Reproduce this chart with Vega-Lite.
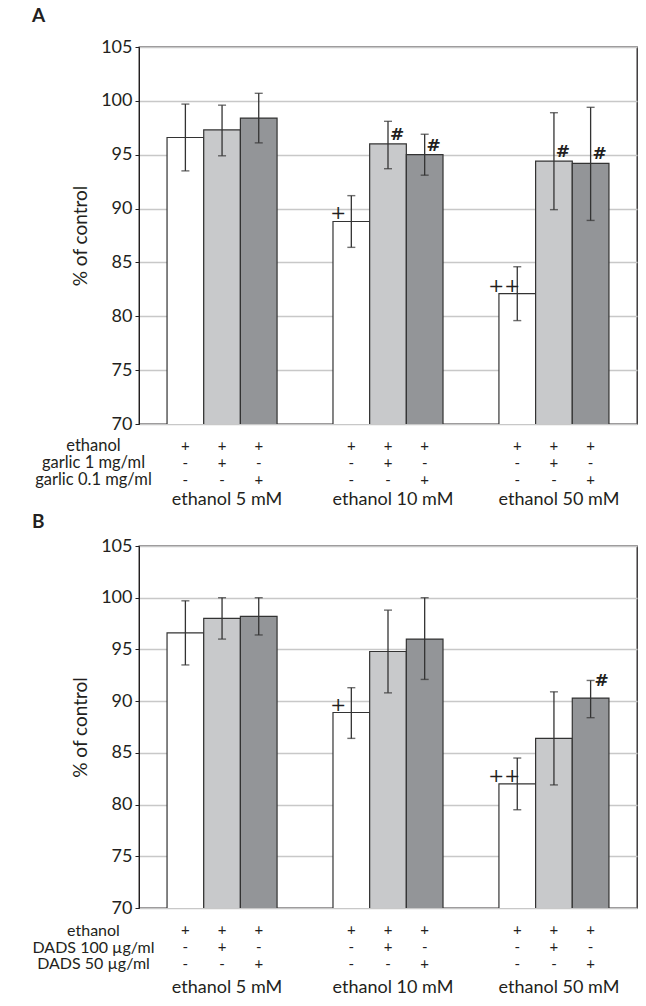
{
  "$schema": "https://vega.github.io/schema/vega-lite/v6.json",
  "background": "white",
  "padding": {"left": 31, "top": 6, "right": 4, "bottom": 5},
  "config": {
    "font": "Lato",
    "view": {"stroke": null},
    "axis": {"labelFont": "Lato", "titleFont": "Lato", "labelFontSize": 18, "titleFontSize": 19, "labelColor": "#231f20", "titleColor": "#231f20", "titleFontWeight": "normal"},
    "text": {"font": "Lato", "color": "#231f20"}
  },
  "datasets": {
    "barsA": [
      {"group": "ethanol 5 mM", "bar": 1, "treatment": "ethanol", "mean": 96.6, "lo": 93.5, "hi": 99.7, "sig": ""},
      {"group": "ethanol 5 mM", "bar": 2, "treatment": "garlic 1 mg/ml", "mean": 97.3, "lo": 94.9, "hi": 99.6, "sig": ""},
      {"group": "ethanol 5 mM", "bar": 3, "treatment": "garlic 0.1 mg/ml", "mean": 98.4, "lo": 96.1, "hi": 100.7, "sig": ""},
      {"group": "ethanol 10 mM", "bar": 1, "treatment": "ethanol", "mean": 88.8, "lo": 86.4, "hi": 91.2, "sig": "+"},
      {"group": "ethanol 10 mM", "bar": 2, "treatment": "garlic 1 mg/ml", "mean": 96.0, "lo": 93.7, "hi": 98.1, "sig": "#"},
      {"group": "ethanol 10 mM", "bar": 3, "treatment": "garlic 0.1 mg/ml", "mean": 95.0, "lo": 93.1, "hi": 96.9, "sig": "#"},
      {"group": "ethanol 50 mM", "bar": 1, "treatment": "ethanol", "mean": 82.1, "lo": 79.6, "hi": 84.6, "sig": "++"},
      {"group": "ethanol 50 mM", "bar": 2, "treatment": "garlic 1 mg/ml", "mean": 94.4, "lo": 89.9, "hi": 98.9, "sig": "#"},
      {"group": "ethanol 50 mM", "bar": 3, "treatment": "garlic 0.1 mg/ml", "mean": 94.2, "lo": 88.9, "hi": 99.4, "sig": "#"}
    ],
    "barsB": [
      {"group": "ethanol 5 mM", "bar": 1, "treatment": "ethanol", "mean": 96.6, "lo": 93.5, "hi": 99.7, "sig": ""},
      {"group": "ethanol 5 mM", "bar": 2, "treatment": "DADS 100 µg/ml", "mean": 98.0, "lo": 96.0, "hi": 100.0, "sig": ""},
      {"group": "ethanol 5 mM", "bar": 3, "treatment": "DADS 50 µg/ml", "mean": 98.2, "lo": 96.4, "hi": 100.0, "sig": ""},
      {"group": "ethanol 10 mM", "bar": 1, "treatment": "ethanol", "mean": 88.9, "lo": 86.4, "hi": 91.3, "sig": "+"},
      {"group": "ethanol 10 mM", "bar": 2, "treatment": "DADS 100 µg/ml", "mean": 94.8, "lo": 90.8, "hi": 98.8, "sig": ""},
      {"group": "ethanol 10 mM", "bar": 3, "treatment": "DADS 50 µg/ml", "mean": 96.0, "lo": 92.1, "hi": 100.0, "sig": ""},
      {"group": "ethanol 50 mM", "bar": 1, "treatment": "ethanol", "mean": 82.0, "lo": 79.5, "hi": 84.5, "sig": "++"},
      {"group": "ethanol 50 mM", "bar": 2, "treatment": "DADS 100 µg/ml", "mean": 86.4, "lo": 81.9, "hi": 90.9, "sig": ""},
      {"group": "ethanol 50 mM", "bar": 3, "treatment": "DADS 50 µg/ml", "mean": 90.3, "lo": 88.4, "hi": 92.0, "sig": "#"}
    ],
    "tableA": [
      {"group": "ethanol 5 mM", "bar": 1, "row": "ethanol", "sign": "+"},
      {"group": "ethanol 5 mM", "bar": 2, "row": "ethanol", "sign": "+"},
      {"group": "ethanol 5 mM", "bar": 3, "row": "ethanol", "sign": "+"},
      {"group": "ethanol 5 mM", "bar": 1, "row": "garlic 1 mg/ml", "sign": "-"},
      {"group": "ethanol 5 mM", "bar": 2, "row": "garlic 1 mg/ml", "sign": "+"},
      {"group": "ethanol 5 mM", "bar": 3, "row": "garlic 1 mg/ml", "sign": "-"},
      {"group": "ethanol 5 mM", "bar": 1, "row": "garlic 0.1 mg/ml", "sign": "-"},
      {"group": "ethanol 5 mM", "bar": 2, "row": "garlic 0.1 mg/ml", "sign": "-"},
      {"group": "ethanol 5 mM", "bar": 3, "row": "garlic 0.1 mg/ml", "sign": "+"},
      {"group": "ethanol 10 mM", "bar": 1, "row": "ethanol", "sign": "+"},
      {"group": "ethanol 10 mM", "bar": 2, "row": "ethanol", "sign": "+"},
      {"group": "ethanol 10 mM", "bar": 3, "row": "ethanol", "sign": "+"},
      {"group": "ethanol 10 mM", "bar": 1, "row": "garlic 1 mg/ml", "sign": "-"},
      {"group": "ethanol 10 mM", "bar": 2, "row": "garlic 1 mg/ml", "sign": "+"},
      {"group": "ethanol 10 mM", "bar": 3, "row": "garlic 1 mg/ml", "sign": "-"},
      {"group": "ethanol 10 mM", "bar": 1, "row": "garlic 0.1 mg/ml", "sign": "-"},
      {"group": "ethanol 10 mM", "bar": 2, "row": "garlic 0.1 mg/ml", "sign": "-"},
      {"group": "ethanol 10 mM", "bar": 3, "row": "garlic 0.1 mg/ml", "sign": "+"},
      {"group": "ethanol 50 mM", "bar": 1, "row": "ethanol", "sign": "+"},
      {"group": "ethanol 50 mM", "bar": 2, "row": "ethanol", "sign": "+"},
      {"group": "ethanol 50 mM", "bar": 3, "row": "ethanol", "sign": "+"},
      {"group": "ethanol 50 mM", "bar": 1, "row": "garlic 1 mg/ml", "sign": "-"},
      {"group": "ethanol 50 mM", "bar": 2, "row": "garlic 1 mg/ml", "sign": "+"},
      {"group": "ethanol 50 mM", "bar": 3, "row": "garlic 1 mg/ml", "sign": "-"},
      {"group": "ethanol 50 mM", "bar": 1, "row": "garlic 0.1 mg/ml", "sign": "-"},
      {"group": "ethanol 50 mM", "bar": 2, "row": "garlic 0.1 mg/ml", "sign": "-"},
      {"group": "ethanol 50 mM", "bar": 3, "row": "garlic 0.1 mg/ml", "sign": "+"}
    ],
    "tableB": [
      {"group": "ethanol 5 mM", "bar": 1, "row": "ethanol", "sign": "+"},
      {"group": "ethanol 5 mM", "bar": 2, "row": "ethanol", "sign": "+"},
      {"group": "ethanol 5 mM", "bar": 3, "row": "ethanol", "sign": "+"},
      {"group": "ethanol 5 mM", "bar": 1, "row": "DADS 100 µg/ml", "sign": "-"},
      {"group": "ethanol 5 mM", "bar": 2, "row": "DADS 100 µg/ml", "sign": "+"},
      {"group": "ethanol 5 mM", "bar": 3, "row": "DADS 100 µg/ml", "sign": "-"},
      {"group": "ethanol 5 mM", "bar": 1, "row": "DADS 50 µg/ml", "sign": "-"},
      {"group": "ethanol 5 mM", "bar": 2, "row": "DADS 50 µg/ml", "sign": "-"},
      {"group": "ethanol 5 mM", "bar": 3, "row": "DADS 50 µg/ml", "sign": "+"},
      {"group": "ethanol 10 mM", "bar": 1, "row": "ethanol", "sign": "+"},
      {"group": "ethanol 10 mM", "bar": 2, "row": "ethanol", "sign": "+"},
      {"group": "ethanol 10 mM", "bar": 3, "row": "ethanol", "sign": "+"},
      {"group": "ethanol 10 mM", "bar": 1, "row": "DADS 100 µg/ml", "sign": "-"},
      {"group": "ethanol 10 mM", "bar": 2, "row": "DADS 100 µg/ml", "sign": "+"},
      {"group": "ethanol 10 mM", "bar": 3, "row": "DADS 100 µg/ml", "sign": "-"},
      {"group": "ethanol 10 mM", "bar": 1, "row": "DADS 50 µg/ml", "sign": "-"},
      {"group": "ethanol 10 mM", "bar": 2, "row": "DADS 50 µg/ml", "sign": "-"},
      {"group": "ethanol 10 mM", "bar": 3, "row": "DADS 50 µg/ml", "sign": "+"},
      {"group": "ethanol 50 mM", "bar": 1, "row": "ethanol", "sign": "+"},
      {"group": "ethanol 50 mM", "bar": 2, "row": "ethanol", "sign": "+"},
      {"group": "ethanol 50 mM", "bar": 3, "row": "ethanol", "sign": "+"},
      {"group": "ethanol 50 mM", "bar": 1, "row": "DADS 100 µg/ml", "sign": "-"},
      {"group": "ethanol 50 mM", "bar": 2, "row": "DADS 100 µg/ml", "sign": "+"},
      {"group": "ethanol 50 mM", "bar": 3, "row": "DADS 100 µg/ml", "sign": "-"},
      {"group": "ethanol 50 mM", "bar": 1, "row": "DADS 50 µg/ml", "sign": "-"},
      {"group": "ethanol 50 mM", "bar": 2, "row": "DADS 50 µg/ml", "sign": "-"},
      {"group": "ethanol 50 mM", "bar": 3, "row": "DADS 50 µg/ml", "sign": "+"}
    ]
  },
  "spacing": 4,
  "resolve": {"scale": {"y": "independent", "x": "independent", "xOffset": "independent", "fill": "independent"}},
  "vconcat": [
    {
      "spacing": 3,
      "resolve": {"scale": {"y": "independent", "x": "independent", "xOffset": "independent"}},
      "vconcat": [
        {
          "width": 498,
          "height": 377,
          "title": {"text": "A", "anchor": "start", "frame": "group", "dx": -107, "fontSize": 19, "fontWeight": "bold", "font": "Lato", "color": "#231f20", "offset": 12},
          "data": {"name": "barsA"},
          "view": {"stroke": "#231f20", "strokeWidth": 1.3},
          "encoding": {
            "x": {"field": "group", "type": "nominal", "sort": ["ethanol 5 mM", "ethanol 10 mM", "ethanol 50 mM"], "scale": {"paddingInner": 0.337, "paddingOuter": 0.169}, "axis": null},
            "xOffset": {"field": "bar", "type": "nominal", "scale": {"paddingInner": 0, "paddingOuter": 0}}
          },
          "layer": [
            {
              "mark": {"type": "bar", "stroke": "#333333", "strokeWidth": 1.2, "clip": true},
              "encoding": {
                "y": {"field": "mean", "type": "quantitative", "scale": {"domain": [70, 105], "nice": false, "zero": false},
                  "axis": {"values": [70, 75, 80, 85, 90, 95, 100, 105], "title": "% of control", "titlePadding": 10, "tickSize": 4, "tickColor": "#231f20", "domainColor": "#231f20", "labelPadding": 3, "gridColor": "#c8c8c8", "gridWidth": 1.5}},
                "fill": {"field": "bar", "type": "nominal", "scale": {"domain": [1, 2, 3], "range": ["#ffffff", "#c8c9cb", "#939598"]}, "legend": null}
              }
            },
            {
              "mark": {"type": "rule", "stroke": "#333333", "strokeWidth": 1.3},
              "encoding": {"y": {"field": "lo", "type": "quantitative"}, "y2": {"field": "hi"}}
            },
            {
              "mark": {"type": "tick", "color": "#333333", "size": 8, "thickness": 1.4, "orient": "horizontal"},
              "encoding": {"y": {"field": "lo", "type": "quantitative"}}
            },
            {
              "mark": {"type": "tick", "color": "#333333", "size": 8, "thickness": 1.4, "orient": "horizontal"},
              "encoding": {"y": {"field": "hi", "type": "quantitative"}}
            },
            {
              "transform": [{"filter": "datum.bar == 1 && datum.sig != ''"}],
              "mark": {"type": "text", "font": "DejaVu Serif", "fontSize": 19, "align": "center", "baseline": "alphabetic", "dx": -13, "dy": -2, "color": "#231f20"},
              "encoding": {"y": {"field": "mean", "type": "quantitative"}, "text": {"field": "sig"}}
            },
            {
              "transform": [{"filter": "datum.bar != 1 && datum.sig != ''"}],
              "mark": {"type": "text", "font": "DejaVu Serif", "fontSize": 17, "fontWeight": "bold", "align": "center", "baseline": "alphabetic", "dx": 9, "dy": -4, "color": "#231f20"},
              "encoding": {"y": {"field": "mean", "type": "quantitative"}, "text": {"field": "sig"}}
            }
          ]
        },
        {
          "width": 498,
          "height": 51,
          "data": {"name": "tableA"},
          "mark": {"type": "text", "fontSize": 15},
          "encoding": {
            "x": {"field": "group", "type": "nominal", "sort": ["ethanol 5 mM", "ethanol 10 mM", "ethanol 50 mM"], "scale": {"paddingInner": 0.337, "paddingOuter": 0.169},
              "axis": {"orient": "bottom", "title": null, "domain": false, "ticks": false, "labelAngle": 0, "labelPadding": 2, "labelOffset": 5}},
            "xOffset": {"field": "bar", "type": "nominal", "scale": {"type": "point", "padding": 0.5}},
            "y": {"field": "row", "type": "nominal", "sort": ["ethanol", "garlic 1 mg/ml", "garlic 0.1 mg/ml"],
              "axis": {"title": null, "domain": false, "ticks": false, "labelAlign": "center", "labelPadding": 46, "labelFontSize": 16.5}},
            "text": {"field": "sign"}
          }
        }
      ]
    },
    {
      "spacing": 4,
      "resolve": {"scale": {"y": "independent", "x": "independent", "xOffset": "independent"}},
      "vconcat": [
        {
          "width": 498,
          "height": 362,
          "title": {"text": "B", "anchor": "start", "frame": "group", "dx": -107, "fontSize": 19, "fontWeight": "bold", "font": "Lato", "color": "#231f20", "offset": 5},
          "data": {"name": "barsB"},
          "view": {"stroke": "#231f20", "strokeWidth": 1.3},
          "encoding": {
            "x": {"field": "group", "type": "nominal", "sort": ["ethanol 5 mM", "ethanol 10 mM", "ethanol 50 mM"], "scale": {"paddingInner": 0.337, "paddingOuter": 0.169}, "axis": null},
            "xOffset": {"field": "bar", "type": "nominal", "scale": {"paddingInner": 0, "paddingOuter": 0}}
          },
          "layer": [
            {
              "mark": {"type": "bar", "stroke": "#333333", "strokeWidth": 1.2, "clip": true},
              "encoding": {
                "y": {"field": "mean", "type": "quantitative", "scale": {"domain": [70, 105], "nice": false, "zero": false},
                  "axis": {"values": [70, 75, 80, 85, 90, 95, 100, 105], "title": "% of control", "titlePadding": 10, "tickSize": 4, "tickColor": "#231f20", "domainColor": "#231f20", "labelPadding": 3, "gridColor": "#c8c8c8", "gridWidth": 1.5}},
                "fill": {"field": "bar", "type": "nominal", "scale": {"domain": [1, 2, 3], "range": ["#ffffff", "#c8c9cb", "#939598"]}, "legend": null}
              }
            },
            {
              "mark": {"type": "rule", "stroke": "#333333", "strokeWidth": 1.3},
              "encoding": {"y": {"field": "lo", "type": "quantitative"}, "y2": {"field": "hi"}}
            },
            {
              "mark": {"type": "tick", "color": "#333333", "size": 8, "thickness": 1.4, "orient": "horizontal"},
              "encoding": {"y": {"field": "lo", "type": "quantitative"}}
            },
            {
              "mark": {"type": "tick", "color": "#333333", "size": 8, "thickness": 1.4, "orient": "horizontal"},
              "encoding": {"y": {"field": "hi", "type": "quantitative"}}
            },
            {
              "transform": [{"filter": "datum.bar == 1 && datum.sig != ''"}],
              "mark": {"type": "text", "font": "DejaVu Serif", "fontSize": 19, "align": "center", "baseline": "alphabetic", "dx": -13, "dy": -2, "color": "#231f20"},
              "encoding": {"y": {"field": "mean", "type": "quantitative"}, "text": {"field": "sig"}}
            },
            {
              "transform": [{"filter": "datum.bar != 1 && datum.sig != ''"}],
              "mark": {"type": "text", "font": "DejaVu Serif", "fontSize": 17, "fontWeight": "bold", "align": "center", "baseline": "alphabetic", "dx": 11, "dy": -12, "color": "#231f20"},
              "encoding": {"y": {"field": "mean", "type": "quantitative"}, "text": {"field": "sig"}}
            }
          ]
        },
        {
          "width": 498,
          "height": 50,
          "data": {"name": "tableB"},
          "mark": {"type": "text", "fontSize": 15},
          "encoding": {
            "x": {"field": "group", "type": "nominal", "sort": ["ethanol 5 mM", "ethanol 10 mM", "ethanol 50 mM"], "scale": {"paddingInner": 0.337, "paddingOuter": 0.169},
              "axis": {"orient": "bottom", "title": null, "domain": false, "ticks": false, "labelAngle": 0, "labelPadding": 6, "labelOffset": 5}},
            "xOffset": {"field": "bar", "type": "nominal", "scale": {"type": "point", "padding": 0.5}},
            "y": {"field": "row", "type": "nominal", "sort": ["ethanol", "DADS 100 µg/ml", "DADS 50 µg/ml"],
              "axis": {"title": null, "domain": false, "ticks": false, "labelAlign": "center", "labelPadding": 46, "labelFontSize": 16}},
            "text": {"field": "sign"}
          }
        }
      ]
    }
  ]
}
